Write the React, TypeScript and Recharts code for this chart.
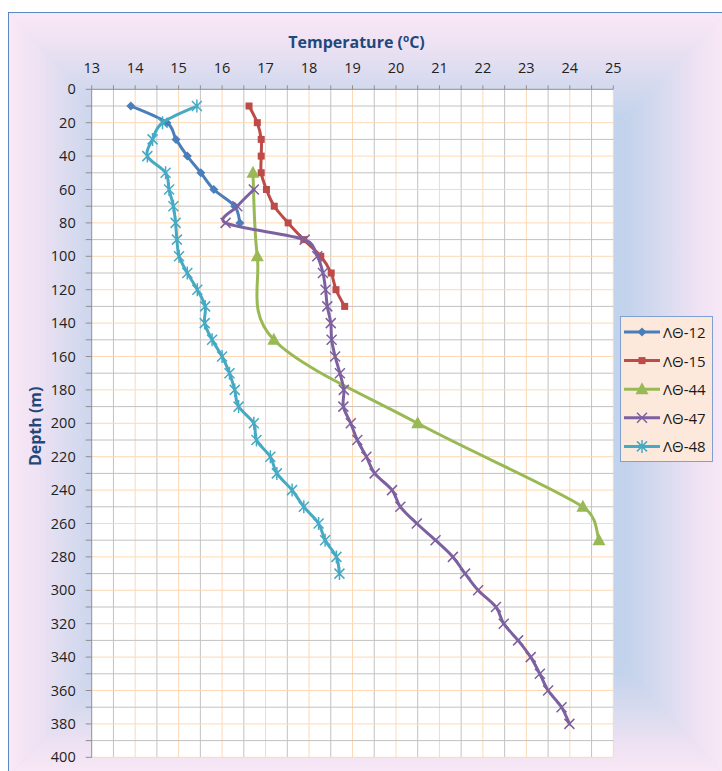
import React from "react";
import {
  ScatterChart,
  Scatter,
  XAxis,
  YAxis,
  CartesianGrid,
  ReferenceLine,
  Legend,
} from "recharts";

// readings per borehole: depth (m) and temperature (°C)
const depths12 = [10, 20, 30, 40, 50, 60, 70, 80];
const temps12 = [13.9, 14.73, 14.94, 15.2, 15.51, 15.81, 16.29, 16.41];

const depths15 = [10, 20, 30, 40, 50, 60, 70, 80, 90, 100, 110, 120, 130];
const temps15 = [16.62, 16.81, 16.9, 16.9, 16.9, 17.02, 17.2, 17.52, 17.88, 18.27, 18.51, 18.62, 18.82];

const depths44 = [50, 100, 150, 200, 250, 270];
const temps44 = [16.71, 16.81, 17.19, 20.5, 24.3, 24.67];

const depths47 = [
  60, 70, 80, 90, 100, 110, 120, 130, 140, 150, 160, 170, 180, 190, 200, 210, 220,
  230, 240, 250, 260, 270, 280, 290, 300, 310, 320, 330, 340, 350, 360, 370, 380,
];
const temps47 = [
  16.73, 16.35, 16.08, 17.9, 18.19, 18.32, 18.38, 18.42, 18.5, 18.52, 18.6, 18.71,
  18.8, 18.79, 18.96, 19.11, 19.32, 19.51, 19.91, 20.1, 20.48, 20.91, 21.31, 21.59,
  21.89, 22.3, 22.48, 22.81, 23.1, 23.31, 23.5, 23.81, 23.99,
];

const depths48 = [
  10, 20, 30, 40, 50, 60, 70, 80, 90, 100, 110, 120, 130, 140, 150, 160, 170, 180,
  190, 200, 210, 220, 230, 240, 250, 260, 270, 280, 290,
];
const temps48 = [
  15.42, 14.63, 14.4, 14.28, 14.7, 14.78, 14.88, 14.93, 14.96, 15.01, 15.2, 15.43,
  15.61, 15.6, 15.77, 16.0, 16.17, 16.29, 16.38, 16.73, 16.79, 17.11, 17.26, 17.61,
  17.88, 18.22, 18.37, 18.63, 18.7,
];

const seriesNames = ["ΛΘ-12", "ΛΘ-15", "ΛΘ-44", "ΛΘ-47", "ΛΘ-48"];
const seriesColors = ["#4a7ebb", "#be4b48", "#98b954", "#7d60a0", "#46aac5"];
const seriesMarkers = ["diamond", "square", "triangle", "x", "star"];

const tempTicks = [
  13, 13.5, 14, 14.5, 15, 15.5, 16, 16.5, 17, 17.5, 18, 18.5, 19, 19.5, 20, 20.5,
  21, 21.5, 22, 22.5, 23, 23.5, 24, 24.5, 25,
];
const depthTicks = [
  0, 10, 20, 30, 40, 50, 60, 70, 80, 90, 100, 110, 120, 130, 140, 150, 160, 170,
  180, 190, 200, 210, 220, 230, 240, 250, 260, 270, 280, 290, 300, 310, 320, 330,
  340, 350, 360, 370, 380, 390, 400,
];

const FONT = "'Open Sans', sans-serif";
const GRID_GRAY = "#c2c2c2";
const GRID_ORANGE = "#fdd9b5";
const AXIS = "#8f8f8f";
const TITLE = "#1f497d";

const readings = [
  [depths12, temps12],
  [depths15, temps15],
  [depths44, temps44],
  [depths47, temps47],
  [depths48, temps48],
];

const series = seriesNames.map((name, i) => ({
  name,
  color: seriesColors[i],
  marker: seriesMarkers[i],
  points: readings[i][0].map((d, j) => ({ d, t: readings[i][1][j] })),
}));

// spreadsheet-style smoothed line through the scaled points;
// handles are capped at half the segment so the curve doesn't overshoot
function smoothPath(pts: { x: number; y: number }[]) {
  if (!pts || !pts.length) return "";
  const handle = (ax: number, ay: number, seg: number) => {
    const len = Math.hypot(ax, ay);
    const k = len > seg / 2 && len > 0 ? seg / 2 / len : 1;
    return [ax * k, ay * k];
  };
  let d = `M${pts[0].x},${pts[0].y}`;
  for (let i = 0; i < pts.length - 1; i++) {
    const p0 = pts[i - 1] || pts[i];
    const p1 = pts[i];
    const p2 = pts[i + 1];
    const p3 = pts[i + 2] || p2;
    const seg = Math.hypot(p2.x - p1.x, p2.y - p1.y);
    const [h1x, h1y] = handle((p2.x - p0.x) / 6, (p2.y - p0.y) / 6, seg);
    const [h2x, h2y] = handle((p3.x - p1.x) / 6, (p3.y - p1.y) / 6, seg);
    d += `C${p1.x + h1x},${p1.y + h1y} ${p2.x - h2x},${p2.y - h2y} ${p2.x},${p2.y}`;
  }
  return d;
}

function Marker({ kind, x, y, color }: { kind: string; x: number; y: number; color: string }) {
  if (kind === "diamond") {
    return (
      <polygon
        points={`${x},${y - 4.5} ${x + 4.5},${y} ${x},${y + 4.5} ${x - 4.5},${y}`}
        fill={color}
      />
    );
  }
  if (kind === "square") {
    return <rect x={x - 3.5} y={y - 3.5} width={7} height={7} fill={color} />;
  }
  if (kind === "triangle") {
    return (
      <polygon points={`${x},${y - 7} ${x + 6.5},${y + 5} ${x - 6.5},${y + 5}`} fill={color} />
    );
  }
  if (kind === "x") {
    return (
      <path
        d={`M${x - 5},${y - 5}L${x + 5},${y + 5}M${x + 5},${y - 5}L${x - 5},${y + 5}`}
        stroke={color}
        strokeWidth={1.5}
        fill="none"
      />
    );
  }
  return (
    <path
      d={`M${x - 5},${y - 5}L${x + 5},${y + 5}M${x + 5},${y - 5}L${x - 5},${y + 5}M${x},${y - 6.5}L${x},${y + 6.5}`}
      stroke={color}
      strokeWidth={1.5}
      fill="none"
    />
  );
}

function LegendBox({ payload }: { payload?: any[] }) {
  const items = (payload && payload.length ? payload : series.map((s) => ({ value: s.name }))).map(
    (p: any) => series.find((s) => s.name === p.value) || series[0]
  );
  return (
    <div
      style={{
        width: 93,
        height: 146,
        boxSizing: "border-box",
        border: "1px solid #7ea0d2",
        background: "#fde9dc",
      }}
    >
      <svg width={91} height={144} style={{ display: "block" }}>
        {items.map((s, i) => {
          const cy = 15 + i * 28.6;
          return (
            <g key={s.name}>
              <line x1={3} x2={39} y1={cy} y2={cy} stroke={s.color} strokeWidth={3} />
              <Marker kind={s.marker} x={21} y={cy} color={s.color} />
              <text
                x={42}
                y={cy}
                dominantBaseline="central"
                fontFamily={FONT}
                fontSize={15}
                fill="#1a1a1a"
              >
                {s.name}
              </text>
            </g>
          );
        })}
      </svg>
    </div>
  );
}

// rectangular gradient behind the chart, like the spreadsheet's chart area fill
function ChartBackground({ w, h }: { w: number; h: number }) {
  const cx = w / 2;
  const cy = h / 2;
  const stops = (
    <>
      <stop offset="0" stopColor="#fae8f6" />
      <stop offset="0.08" stopColor="#eee2f3" />
      <stop offset="0.17" stopColor="#d9dbef" />
      <stop offset="0.27" stopColor="#c3d3ec" />
      <stop offset="1" stopColor="#bcd0ea" />
    </>
  );
  return (
    <svg width={w} height={h} style={{ display: "block" }}>
      <defs>
        <linearGradient id="bgL" gradientUnits="userSpaceOnUse" x1={0} y1={0} x2={cx} y2={0}>
          {stops}
        </linearGradient>
        <linearGradient id="bgR" gradientUnits="userSpaceOnUse" x1={w} y1={0} x2={cx} y2={0}>
          {stops}
        </linearGradient>
        <linearGradient id="bgT" gradientUnits="userSpaceOnUse" x1={0} y1={0} x2={0} y2={cy}>
          {stops}
        </linearGradient>
        <linearGradient id="bgB" gradientUnits="userSpaceOnUse" x1={0} y1={h} x2={0} y2={cy}>
          {stops}
        </linearGradient>
      </defs>
      <polygon points={`0,0 ${cx},${cy} 0,${h}`} fill="url(#bgL)" />
      <polygon points={`${w},0 ${cx},${cy} ${w},${h}`} fill="url(#bgR)" />
      <polygon points={`0,0 ${w},0 ${cx},${cy}`} fill="url(#bgT)" />
      <polygon points={`0,${h} ${w},${h} ${cx},${cy}`} fill="url(#bgB)" />
    </svg>
  );
}

const renderTempTitle = (props: any) => {
  const vb = props.viewBox || { x: 0, y: 0, width: 0 };
  const x = vb.x + vb.width / 2 + 4;
  return (
    <text x={x} y={47.7} textAnchor="middle" fontFamily={FONT} fontSize={16} fontWeight={700} fill={TITLE}>
      Temperature (
      <tspan fontSize={10} dy={-6}>
        o
      </tspan>
      <tspan dy={6}>C)</tspan>
    </text>
  );
};

const renderDepthTitle = (props: any) => {
  const vb = props.viewBox || { x: 0, y: 0, height: 0 };
  const x = 35;
  const y = vb.y + vb.height / 2 + 3;
  return (
    <text
      x={x}
      y={y}
      transform={`rotate(-90, ${x}, ${y})`}
      textAnchor="middle"
      dominantBaseline="central"
      fontFamily={FONT}
      fontSize={16}
      fontWeight={700}
      fill={TITLE}
    >
      Depth (m)
    </text>
  );
};

export default function App() {
  const orangeTemps = tempTicks.filter((v) => Number.isInteger(v) && v > 13);
  const grayTemps = tempTicks.filter((v) => !Number.isInteger(v));
  const orangeDepths = depthTicks.filter((v) => v > 0 && v % 20 === 0);
  const grayDepths = depthTicks.filter((v) => v % 20 !== 0);

  return (
    <div style={{ position: "relative", width: 722, height: 771, overflow: "hidden" }}>
      <style>{`html,body{margin:0;padding:0;overflow:hidden;}`}</style>
      <div
        style={{
          position: "absolute",
          left: 8,
          top: 12,
          width: 716,
          height: 763,
          borderLeft: "1px solid #5a88c6",
          borderTop: "1px solid #5a88c6",
          background: "#dcdcf0",
        }}
      >
        <ChartBackground w={716} h={763} />
      </div>
      <div style={{ position: "absolute", left: 0, top: 0 }}>
        <ScatterChart
          width={722}
          height={771}
          margin={{ top: 59.3, right: 108.7, bottom: 13.7, left: 31.7 }}
          style={{ fontFamily: FONT }}
        >
          <CartesianGrid horizontal={false} vertical={false} fill="#ffffff" fillOpacity={1} />
          {grayTemps.map((v) => (
            <ReferenceLine key={`gt${v}`} x={v} stroke={GRID_GRAY} strokeWidth={1} />
          ))}
          {orangeTemps.map((v) => (
            <ReferenceLine key={`ot${v}`} x={v} stroke={GRID_ORANGE} strokeWidth={1} />
          ))}
          {grayDepths.map((v) => (
            <ReferenceLine key={`gd${v}`} y={v} stroke={GRID_GRAY} strokeWidth={1} />
          ))}
          {orangeDepths.map((v) => (
            <ReferenceLine key={`od${v}`} y={v} stroke={GRID_ORANGE} strokeWidth={1} />
          ))}
          <XAxis
            type="number"
            dataKey="t"
            orientation="top"
            domain={[13, 25]}
            ticks={tempTicks}
            interval={0}
            height={30}
            tickSize={4}
            tickMargin={12.6}
            tickFormatter={(v) => (Number.isInteger(v) ? String(v) : "")}
            axisLine={{ stroke: AXIS }}
            tickLine={{ stroke: AXIS }}
            tick={{ fill: "#222222", fontSize: 14.5, fontFamily: FONT }}
            label={renderTempTitle}
          />
          <YAxis
            type="number"
            dataKey="d"
            domain={[0, 400]}
            reversed
            ticks={depthTicks}
            interval={0}
            width={60}
            tickSize={6}
            tickMargin={10}
            tickFormatter={(v) => (v % 20 === 0 ? String(v) : "")}
            axisLine={{ stroke: AXIS }}
            tickLine={{ stroke: AXIS }}
            tick={{ fill: "#222222", fontSize: 14.5, fontFamily: FONT }}
            label={renderDepthTitle}
          />
          {series.map((s) => (
            <Scatter
              key={s.name}
              name={s.name}
              data={s.points}
              fill={s.color}
              line={(lp: any) => (
                <path
                  d={smoothPath(lp.points)}
                  fill="none"
                  stroke={s.color}
                  strokeWidth={3}
                  strokeLinejoin="round"
                  strokeLinecap="round"
                />
              )}
              lineType="joint"
              shape={(p: any) => <Marker kind={s.marker} x={p.cx} y={p.cy} color={s.color} />}
              isAnimationActive={false}
            />
          ))}
          <Legend
            layout="vertical"
            align="center"
            verticalAlign="middle"
            wrapperStyle={{ left: 620, top: 316, width: 93, height: 146 }}
            content={(props: any) => <LegendBox payload={props.payload} />}
          />
        </ScatterChart>
      </div>
    </div>
  );
}
